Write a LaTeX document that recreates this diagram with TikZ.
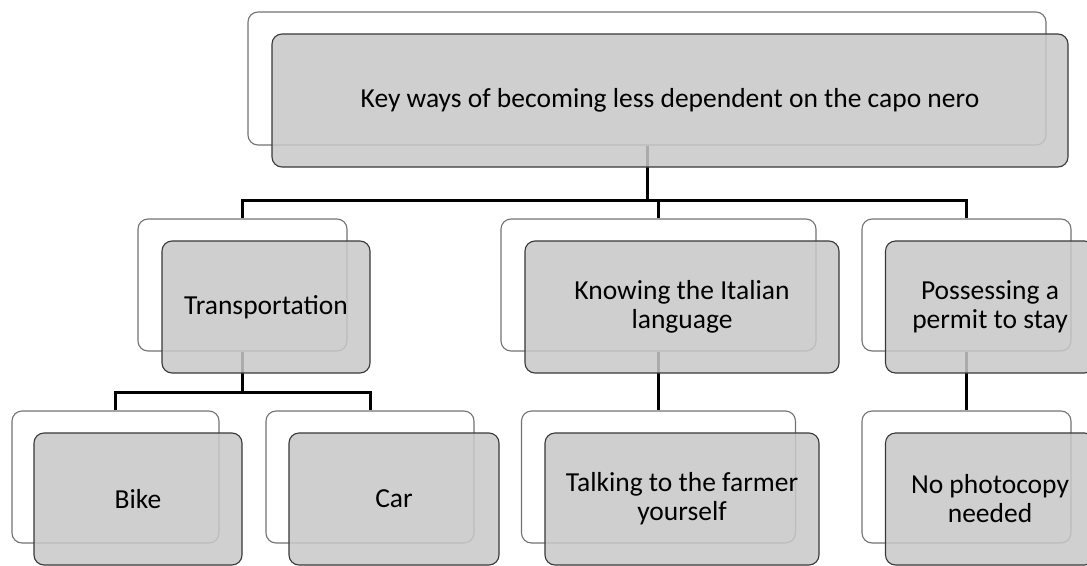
\documentclass[tikz,border=0pt]{standalone}
\usepackage{fontspec}
\setmainfont{Carlito}
\begin{document}
\begin{tikzpicture}[x=1pt,y=-1pt,
  backbox/.style={draw=black!55, line width=1.1pt, fill=white, rounded corners=10pt,
    minimum width=#1, minimum height=132pt, inner sep=0pt},
  backbox/.default=209pt,
  frontbox/.style={draw=black!78, line width=1.1pt, fill={rgb,255:red,200;green,200;blue,200},
    fill opacity=0.86, text opacity=1, rounded corners=10pt,
    minimum width=#1, minimum height=132pt, inner sep=0pt, align=center,
    font=\fontsize{27.5}{29}\selectfont},
  frontbox/.default=209pt,
  conn/.style={draw=black, line width=3pt, line join=miter}
]
\useasboundingbox (0,0) rectangle (1087,565);
\clip (0,0) rectangle (1087,565);

% back outlines
\node[backbox=798pt, minimum height=133pt] (w0) at (647,78.5) {};
\node[backbox] (w1) at (242.5,285) {};
\node[backbox=315pt] (w2) at (658.5,285) {};
\node[backbox] (w3) at (966.5,285) {};
\node[backbox=207pt] (w4) at (115.5,477) {};
\node[backbox=208pt] (w5) at (370,477) {};
\node[backbox=274pt] (w6) at (658.5,477) {};
\node[backbox] (w7) at (966.5,477) {};

% connectors
\coordinate (bar0) at (647,200);
\coordinate (bar1) at (242.5,392);
\draw[conn] (w0.south) -- (bar0) -| (w1.north);
\draw[conn] (bar0) -| (w2.north);
\draw[conn] (bar0) -| (w3.north);
\draw[conn] (w1.south) -- (bar1) -| (w4.north);
\draw[conn] (bar1) -| (w5.north);
\draw[conn] (w2.south) -- (w6.north);
\draw[conn] (w3.south) -- (w7.north);

% front boxes with the labels
\node[frontbox=796pt, minimum height=133pt] (g0) at (670,100.5) {Key ways of becoming less dependent on the capo nero};
\node[frontbox=208pt] (g1) at (266,307) {Transportation};
\node[frontbox=314pt] (g2) at (682,307) {Knowing the Italian\\language};
\node[frontbox] (g3) at (990,307) {Possessing a\\permit to stay};
\node[frontbox=208pt] (g4) at (138,499) {Bike};
\node[frontbox=210pt] (g5) at (394,499) {Car};
\node[frontbox=274pt] (g6) at (682,499) {Talking to the farmer\\yourself};
\node[frontbox] (g7) at (990,499) {No photocopy\\needed};
\end{tikzpicture}
\end{document}
